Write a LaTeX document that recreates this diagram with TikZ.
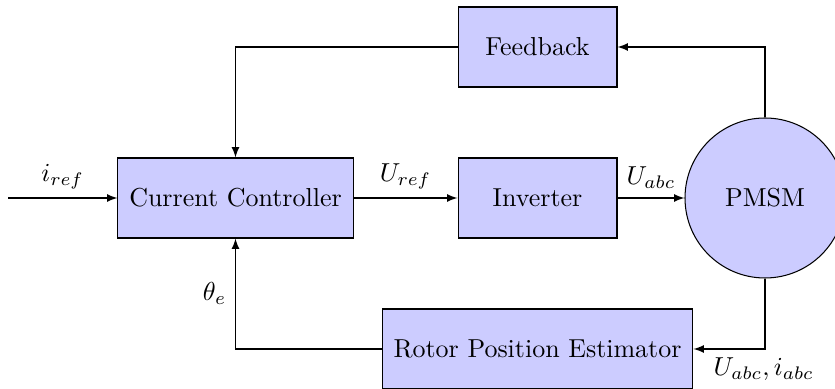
\documentclass[tikz,border=0pt]{standalone}
\usetikzlibrary{arrows}
\begin{document}
\begin{tikzpicture}[x=0.385pt, y=-0.385pt, >=latex,
  block/.style={draw, fill=blue!20, rectangle, inner sep=0pt, minimum height=30.8pt},
  machine/.style={draw, fill=blue!20, circle, inner sep=0pt, minimum size=61.6pt}]
  % frame of the picture; the motor and the estimator run past its edges
  \clip (0,0) rectangle (835,389);

  % blocks
  \node[block, minimum width=90.5pt] (cc)  at (235.5,198) {Current Controller};
  \node[block, minimum width=61.2pt] (inv) at (537.5,198) {Inverter};
  \node[block, minimum width=61.2pt] (fb)  at (537.5,47)  {Feedback};
  \node[block, minimum width=119.7pt] (rpe) at (537.5,349) {Rotor Position Estimator};
  \node[machine] (pmsm) at (765,198) {PMSM};

  \coordinate (in) at (8,198);

  % forward path
  \draw[->] (in) -- node[above] {$i_{ref}$} (cc);
  \draw[->] (cc) -- node[above] {$U_{ref}$} (inv);
  \draw[->] (inv) -- node[above] {$U_{abc}$} (pmsm);

  % feedback loop over the top
  \draw[->] (pmsm.north) |- (fb.east);
  \draw[->] (fb.west) -| (cc.north);

  % estimator loop underneath
  \draw[->] (pmsm.south) |- node[pos=0.5, anchor=north, xshift=-0.5pt] {$U_{abc}, i_{abc}$} (rpe.east);
  \draw[->] (rpe.west) -| node[pos=0.75, left] {$\theta_e$} (cc.south);
\end{tikzpicture}
\end{document}
